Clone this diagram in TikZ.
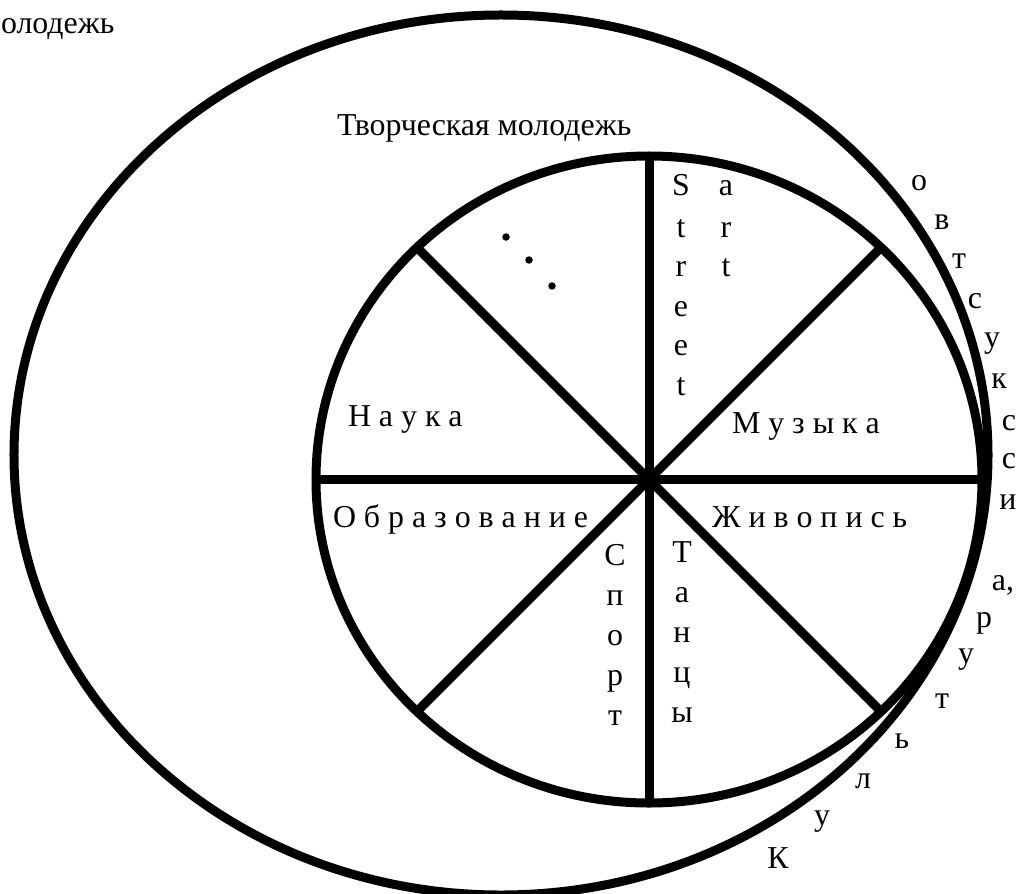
\documentclass[tikz,border=0pt]{standalone}
\usepackage{fontspec}
\setmainfont{Liberation Serif}
\usetikzlibrary{shapes.geometric}
\begin{document}
\begin{tikzpicture}[x=1bp,y=-1bp,
  every node/.style={font=\fontsize{32}{36}\selectfont, inner sep=0pt, outer sep=0pt},
  ring/.style={ellipse, draw, line width=9bp, inner sep=0pt, outer sep=0pt},
  spoke/.style={line width=9bp},
  lbl/.style={anchor=base west},
  vl/.style={anchor=base},
  dotmark/.style={circle, fill, minimum size=7.5bp}]
\useasboundingbox (0,0) rectangle (1020,894);
% rings
\node[ring, minimum width=974bp, minimum height=880bp] (outer) at (501,455) {};
\node[ring, minimum width=666bp, minimum height=647bp] (inner) at (649,479.5) {};
% spokes
\foreach \a in {0,45,...,315} \draw[spoke] (inner.center) -- (inner.\a);
% titles
\node[lbl] (youth) at (1,33) {олодежь};
\node[lbl] (creative) at (337,135) {Творческая молодежь};
% sector labels
\node[lbl] (nauka) at (348,426) {Н а у к а};
\node[lbl] (muz) at (732,433) {М у з ы к а};
\node[lbl] (obr) at (333,527) {О б р а з о в а н и е};
\node[lbl] (zhiv) at (712,527) {Ж и в о п и с ь};
% vertical words
\foreach \ch/\yy [count=\i] in {S/195,t/237,r/276,e/316,e/355,t/395}
  \node[vl] (st\i) at (681,\yy) {\ch};
\foreach \ch/\yy [count=\i] in {a/195,r/237,t/276}
  \node[vl] (ar\i) at (726,\yy) {\ch};
\foreach \ch/\yy [count=\i] in {С/565,п/605,о/645,р/685,т/725}
  \node[vl] (sp\i) at (615,\yy) {\ch};
\foreach \ch/\yy [count=\i] in {Т/562,а/602,н/642,ц/682,ы/722}
  \node[vl] (tn\i) at (682,\yy) {\ch};
% dots
\node[dotmark] (d1) at (506,237) {};
\node[dotmark] (d2) at (529,260) {};
\node[dotmark] (d3) at (552,286) {};
% curved caption along the right
\foreach \ch/\x/\yy [count=\i] in {К/778/868,у/822/825,л/863/788,ь/902/748,т/942/708,у/966/663,р/984/627}
  \node[vl] (ku\i) at (\x,\yy) {\ch};
\node[vl] (kuc) at (1003,590) {а,};
\foreach \ch/\x/\yy [count=\i] in {и/1008/509,с/1009/468,с/1009/430,к/999/388,у/992/347,с/975/308,т/959/268,в/942/229,о/919/190}
  \node[vl] (is\i) at (\x,\yy) {\ch};
\end{tikzpicture}
\end{document}
